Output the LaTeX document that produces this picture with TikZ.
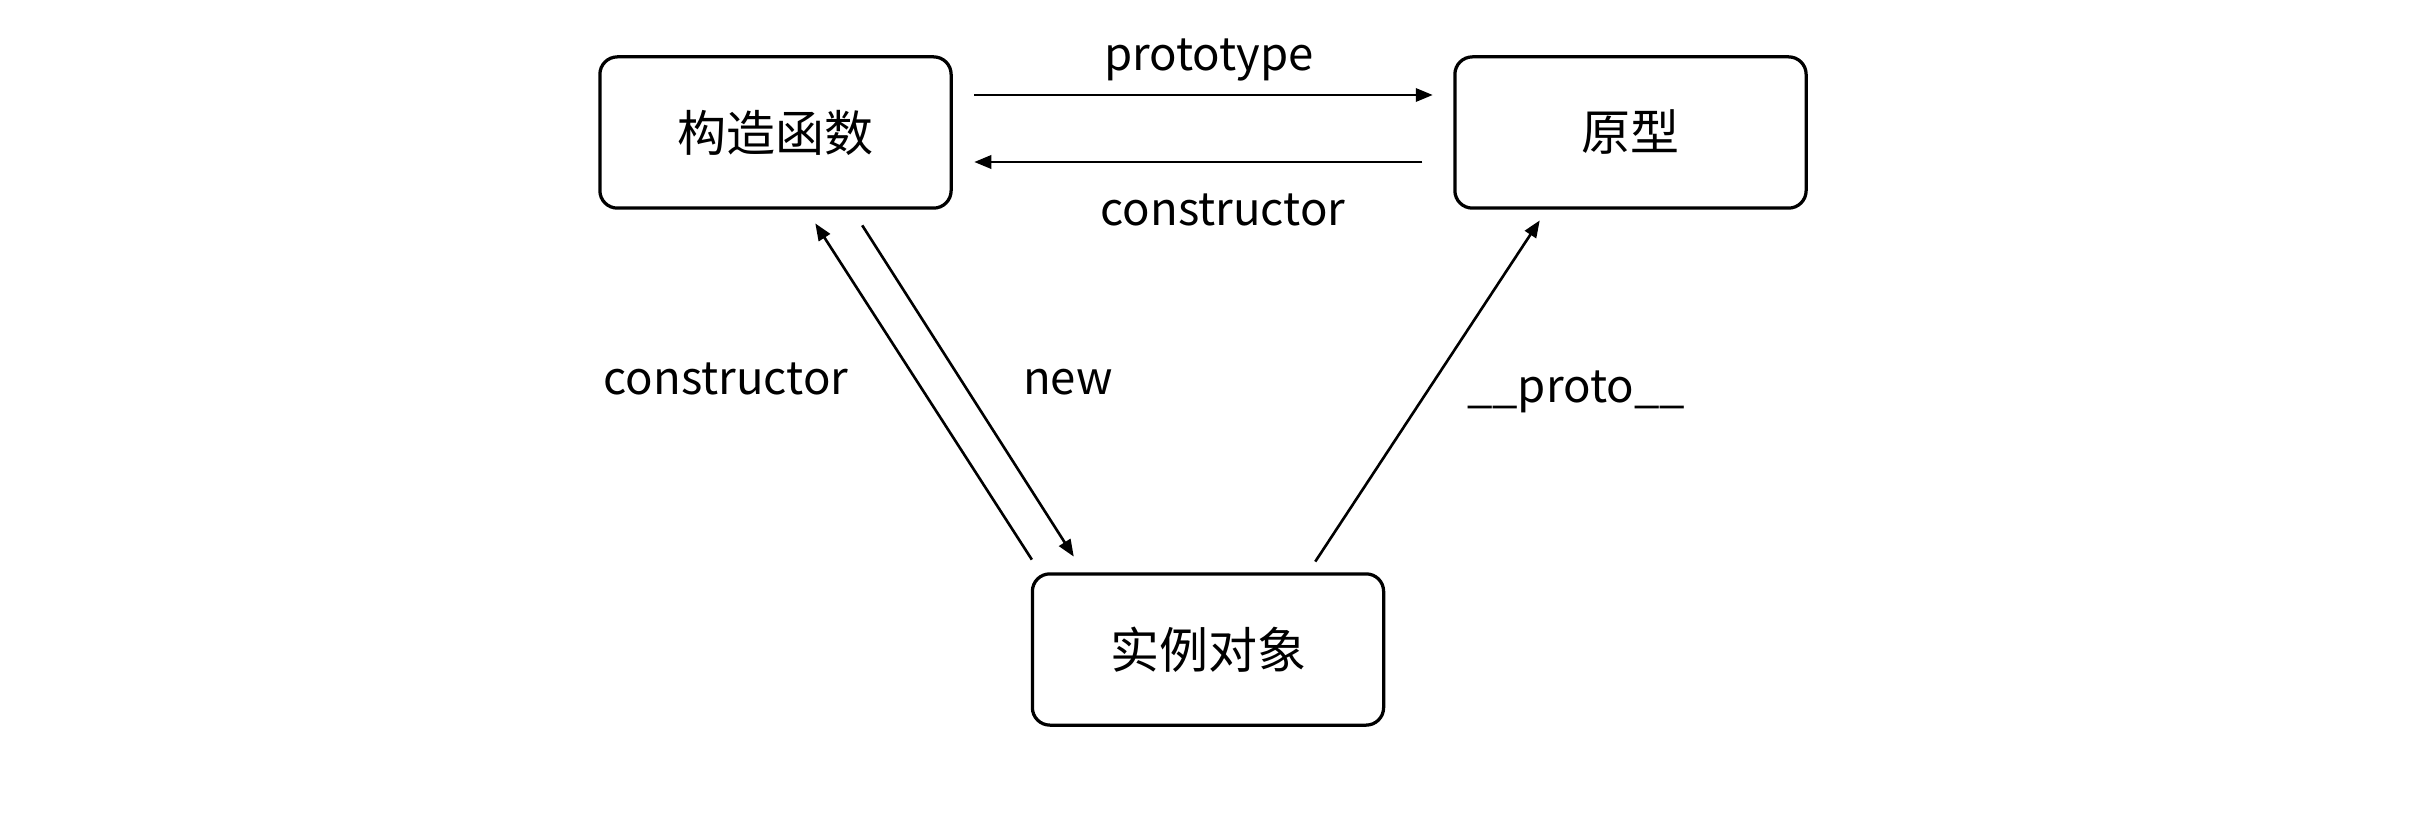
\documentclass[tikz,border=0pt]{standalone}
\usepackage{fontspec}
\setmainfont{Noto Sans CJK SC}
\usepackage{tikz}
\usetikzlibrary{arrows.meta,positioning}
\definecolor{pkink}{HTML}{000000}

\begin{document}
\begin{tikzpicture}[x=0.4pt,y=-0.4pt,
  objbox/.style={draw=pkink,line width=1.3pt,rounded corners=7pt,minimum width=140.5pt,minimum height=60.5pt,font=\fontsize{19.6}{22}\selectfont},
  linklbl/.style={font=\fontsize{18.2}{21}\selectfont,color=pkink,anchor=base,inner sep=0pt},
  link/.style={draw=pkink,line width=1.05pt,-{Triangle[length=6.8pt,width=5.3pt]}}]
\useasboundingbox (0,0) rectangle (2413,825);
\node[objbox] (ctor) at (775.5,132.5) {构造函数};
\node[objbox] (proto) at (1630.5,132.5) {原型};
\node[objbox] (inst) at (1208,649.5) {实例对象};
\draw[link,shorten <=8.6pt,shorten >=8.2pt] ([yshift=15pt]ctor.east) -- ([yshift=15pt]proto.west);
\draw[link,shorten <=12.4pt,shorten >=8.6pt] ([yshift=-11.8pt]proto.west) -- ([yshift=-11.8pt]ctor.east);
\draw[link,shorten <=6pt,shorten >=6.5pt] ([xshift=-67.2pt]inst.north) -- ([xshift=12.4pt]ctor.south);
\draw[link,shorten <=7.4pt,shorten >=7.4pt] ([xshift=30.7pt]ctor.south) -- ([xshift=-49.7pt]inst.north);
\draw[link,shorten <=5.1pt,shorten >=5.1pt] ([xshift=40.1pt]inst.north) -- ([xshift=-33.5pt]proto.south);
\node[linklbl] (lproto) at (1209,71) {prototype};
\node[linklbl] (lctor) at (1223,226) {constructor};
\node[linklbl] (lback) at (726,394) {constructor};
\node[linklbl] (lnew) at (1068,394) {new};
\node[linklbl] (lunder) at (1576,402) {\_\_proto\_\_};
\end{tikzpicture}
\end{document}
